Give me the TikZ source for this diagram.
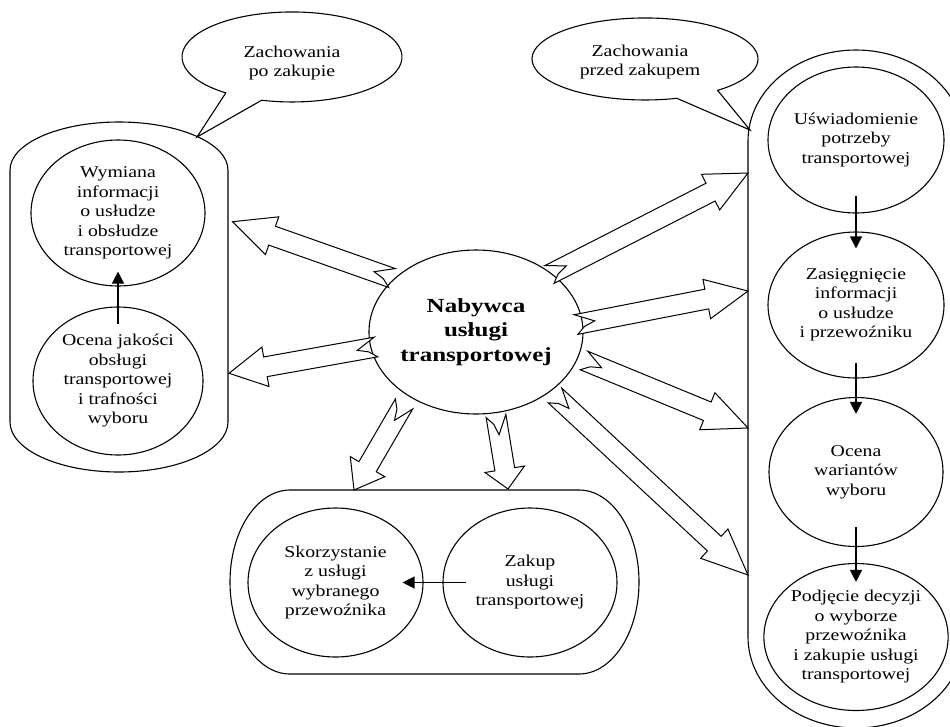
\documentclass[tikz,border=0pt]{standalone}
\usepackage{fontspec}
\setmainfont{Liberation Serif}[FakeStretch=1.2, BoldFeatures={FakeStretch=1.25}]
\usetikzlibrary{shapes.geometric,arrows.meta}
\newdimen\badx
\newdimen\bady
% block arrow: #1 tail coordinate, #2 tip coordinate, #3 mirror (1/-1), #4 head length
\newcommand\blockarrow[4]{%
  \pgfextractx{\badx}{\pgfpointdiff{\pgfpointanchor{#1}{center}}{\pgfpointanchor{#2}{center}}}%
  \pgfextracty{\bady}{\pgfpointdiff{\pgfpointanchor{#1}{center}}{\pgfpointanchor{#2}{center}}}%
  \pgfmathsetmacro\baL{veclen(\badx,\bady)}%
  \pgfmathsetmacro\baA{atan2(\bady,\badx)}%
  \pgfmathsetmacro\baB{\baL-(#4)}%
  \pgfmathsetmacro\bsP{(#3)*10}%
  \pgfmathsetmacro\bsN{0-(#3)*10}%
  \pgfmathsetmacro\bhP{(#3)*20}%
  \pgfmathsetmacro\bhN{0-(#3)*20}%
  \pgfmathsetmacro\bzN{0-(#3)*3.5}%
  \begin{scope}[shift={(#1)},rotate=\baA]
    \draw[blockarr] (0pt,\bsP pt) -- (19pt,0pt) -- (8pt,\bzN pt) -- (0pt,\bsN pt)
      -- (\baB pt,\bsN pt) -- (\baB pt,\bhN pt) -- (\baL pt,0pt)
      -- (\baB pt,\bhP pt) -- (\baB pt,\bsP pt) -- cycle;
  \end{scope}}
\tikzset{
  every node/.style={font=\fontsize{16.5}{19.5}\selectfont},
  cont/.style={draw=black, line width=1.1pt},
  inner/.style={draw=black, ellipse, inner sep=0pt, align=center, line width=1.1pt},
  txt/.style={align=center, inner sep=0pt},
  flow/.style={-{Triangle[length=12pt,width=12pt]}, line width=1.2pt},
  blockarr/.style={draw=black, fill=white, line width=1pt, line join=miter},
}
\begin{document}
\begin{tikzpicture}[x=1pt,y=-1pt]
\useasboundingbox (0,0) rectangle (950,726);
\fill[white] (0,0) rectangle (950,726);
\clip (0,0) rectangle (950,726);

% containers
\draw[cont] (10,170) -- (10,422) arc[start angle=180, end angle=0, x radius=109, y radius=50]
  -- (228,170) arc[start angle=0, end angle=-180, x radius=109, y radius=48] -- cycle;
\draw[cont] (748,141) -- (748,637) arc[start angle=180, end angle=0, x radius=108, y radius=91]
  -- (964,141) arc[start angle=0, end angle=-180, x radius=108, y radius=91] -- cycle;
\draw[cont] (290,490) -- (579,490) arc[start angle=-90, end angle=90, x radius=60, y radius=92]
  -- (290,674) arc[start angle=90, end angle=270, x radius=60, y radius=92] -- cycle;

% callouts
\draw[cont, fill=white] (225.8,92.9) arc[start angle=127, end angle=466, x radius=110, y radius=45]
  -- (197,137) -- cycle;
\node[txt] (cpo) at (292,63) {Zachowania\\po zakupie};
\draw[cont, fill=white] (676.9,98.3) arc[start angle=73.6, end angle=410, x radius=113, y radius=41]
  -- (750,130) -- cycle;
\node[txt] (cprzed) at (640,62) {Zachowania\\przed zakupem};

% left group
\node[inner, minimum width=174pt, minimum height=146pt] (wym) at (118,213)
  {Wymiana\\informacji\\o usłudze\\i obsłudze\\transportowej};
\node[inner, minimum width=170pt, minimum height=148pt] (ocj) at (118,381)
  {Ocena jakości\\obsługi\\transportowej\\i trafności\\wyboru};
\draw[flow, shorten <=-18pt, shorten >=-15pt] (ocj) -- (wym);

% right group
\node[inner, minimum width=176pt, minimum height=146pt] (usw) at (856,140)
  {Uświadomienie\\potrzeby\\transportowej};
\node[inner, minimum width=176pt, minimum height=146pt] (zas) at (856,305)
  {Zasięgnięcie\\informacji\\o usłudze\\i przewoźniku};
\node[inner, minimum width=174pt, minimum height=149pt] (ocw) at (856,472)
  {Ocena\\wariantów\\wyboru};
\node[inner, minimum width=174pt, minimum height=147pt] (pod) at (856,637)
  {Podjęcie decyzji\\o wyborze\\przewoźnika\\i zakupie usługi\\transportowej};
\draw[flow, shorten <=-18pt, shorten >=-17pt] (usw) -- (zas);
\draw[flow, shorten <=-16pt, shorten >=-17pt] (zas) -- (ocw);
\draw[flow, shorten <=-20pt, shorten >=-19pt] (ocw) -- (pod);

% bottom group
\node[inner, minimum width=175pt, minimum height=149pt] (sko) at (335.5,582.5)
  {Skorzystanie\\z usługi\\wybranego\\przewoźnika};
\node[inner, minimum width=174pt, minimum height=149pt] (zak) at (530,582.5)
  {Zakup\\usługi\\transportowej};
\draw[flow, shorten <=-24pt, shorten >=-21pt] (zak) -- (sko);

% central node
\node[inner, minimum width=196pt, minimum height=164pt,
  font=\fontsize{20}{24.5}\selectfont\bfseries] (nab) at (476,332)
  {Nabywca\\usługi\\transportowej};

% block arrows
\coordinate (a1t) at (392,278);   \coordinate (a1h) at (232.5,221.7);
\coordinate (a2t) at (376,347);   \coordinate (a2h) at (229,373.3);
\coordinate (a3t) at (549.4,274.5); \coordinate (a3h) at (748,173);
\coordinate (a4t) at (576,324.5); \coordinate (a4h) at (748,291);
\coordinate (a5t) at (584,360.5); \coordinate (a5h) at (748,428);
\coordinate (a6t) at (555,395.5); \coordinate (a6h) at (748,575);
\coordinate (a7t) at (404,404);   \coordinate (a7h) at (354,490);
\coordinate (a8t) at (496,416);   \coordinate (a8h) at (508,489);
\blockarrow{a1t}{a1h}{-1}{42}
\blockarrow{a2t}{a2h}{-1}{37}
\blockarrow{a3t}{a3h}{1}{42}
\blockarrow{a4t}{a4h}{1}{42}
\blockarrow{a5t}{a5h}{1}{44}
\blockarrow{a6t}{a6h}{1}{46}
\blockarrow{a7t}{a7h}{1}{27}
\blockarrow{a8t}{a8h}{1}{20}
\end{tikzpicture}
\end{document}
